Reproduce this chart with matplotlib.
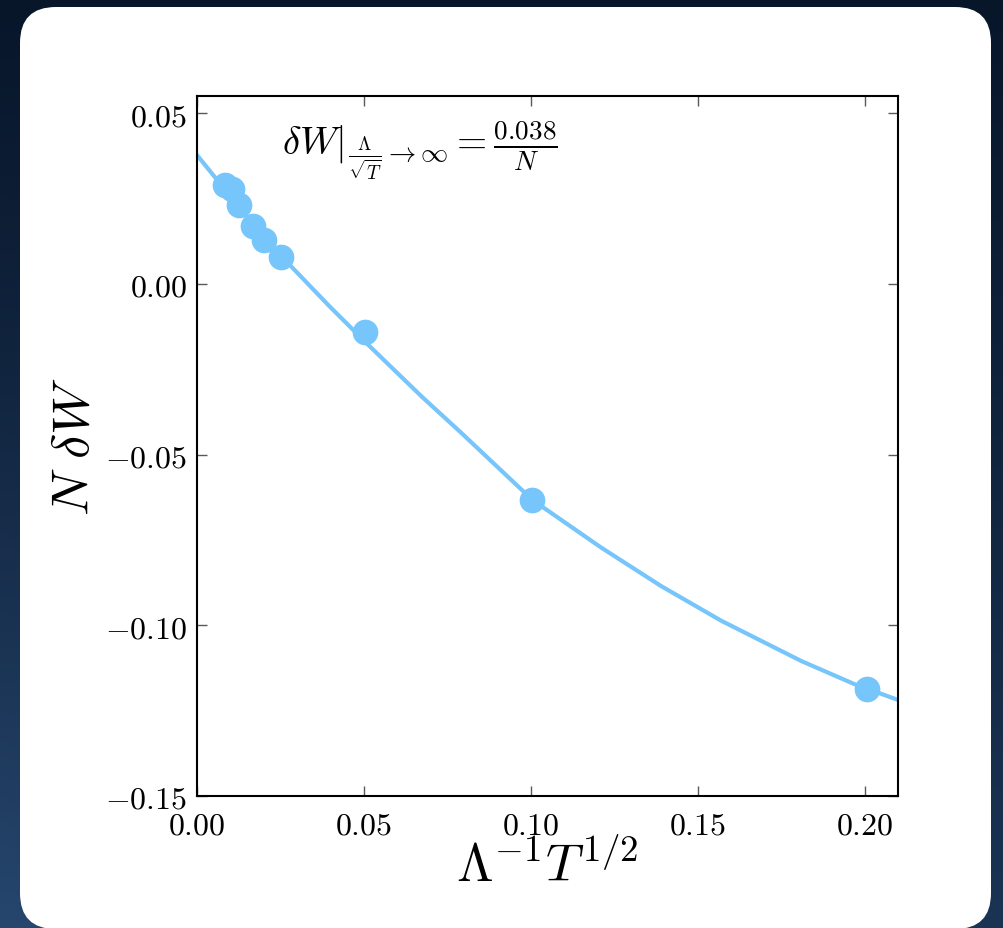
import numpy as np
import matplotlib
matplotlib.use('Agg')
import matplotlib.pyplot as plt
from matplotlib.patches import FancyBboxPatch
from matplotlib.ticker import FuncFormatter

plt.rcParams['mathtext.fontset'] = 'cm'
plt.rcParams['font.family'] = ['DejaVu Serif']

# measured points
inv_lambda_sqrt_t = [0.0084, 0.0104, 0.0125, 0.0167, 0.0200, 0.0252, 0.0502, 0.1005, 0.2006]
n_delta_w = [0.0288, 0.0278, 0.0230, 0.0168, 0.0127, 0.0078, -0.0140, -0.0633, -0.1186]

# fitted curve
fit_x = [0.0, 0.0140, 0.0284, 0.0397, 0.0510, 0.0675, 0.0790, 0.1005,
         0.1210, 0.1390, 0.1571, 0.1811, 0.1971, 0.2101]
fit_y = [0.0377, 0.0208, 0.0049, -0.0066, -0.0176, -0.0332, -0.0435, -0.0633,
         -0.0772, -0.0885, -0.0987, -0.1105, -0.1173, -0.1219]

x_ticks = [0.00, 0.05, 0.10, 0.15, 0.20]
y_ticks = [-0.15, -0.10, -0.05, 0.00, 0.05]

blue = '#76C5FB'

W, H = 1004, 929
fig = plt.figure(figsize=(W / 100, H / 100), dpi=100)

# slide background + white card
bg = fig.add_axes([0, 0, 1, 1])
gy, gx = np.mgrid[0:1:200j, 0:1:200j]
shade = 0.55 * gy + 0.35 * (1 - gx) * gy ** 2
c0 = np.array([8, 22, 42]) / 255
c1 = np.array([42, 76, 118]) / 255
img = c0[None, None, :] + np.clip(shade, 0, 1)[..., None] * (c1 - c0)[None, None, :]
bg.imshow(img, extent=[0, W, H, 0], aspect='auto')
bg.add_patch(FancyBboxPatch((20, 8), 971, 922, boxstyle='round,pad=0,rounding_size=36',
                            fc='white', ec='none'))
bg.set_xlim(0, W)
bg.set_ylim(H, 0)
bg.axis('off')

ax = fig.add_axes([197 / W, 1 - 797 / H, 701 / W, 700 / H])
ax.plot(fit_x, fit_y, color=blue, lw=3, zorder=2, solid_joinstyle='round')
ax.plot(inv_lambda_sqrt_t, n_delta_w, 'o', color=blue, ms=18.5, mec='none', zorder=3)

ax.set_xlim(0, 0.21)
ax.set_ylim(-0.15, 0.055)
ax.set_xticks(x_ticks)
ax.set_yticks(y_ticks)
ax.xaxis.set_major_formatter(FuncFormatter(lambda v, _: f'${v:.2f}$'))
ax.yaxis.set_major_formatter(FuncFormatter(lambda v, _: f'${v:.2f}$'))
ax.tick_params(direction='in', top=True, right=True, length=7, width=1,
               color='0.35', labelsize=23, pad=7)
ax.tick_params(axis='x', pad=10)
for s in ax.spines.values():
    s.set_linewidth(1.5)

ax.set_xlabel(r'$\Lambda^{-1}T^{1/2}$', fontsize=38, labelpad=0)
ax.set_ylabel(r'$N\ \delta W$', fontsize=38, labelpad=4)

ax.text(0.121, 0.917, r'$\delta W|_{\frac{\Lambda}{\sqrt{T}}\to\infty} = \frac{0.038}{N}$',
        transform=ax.transAxes, fontsize=28, ha='left', va='baseline')

fig.savefig('out.png', dpi=100)
